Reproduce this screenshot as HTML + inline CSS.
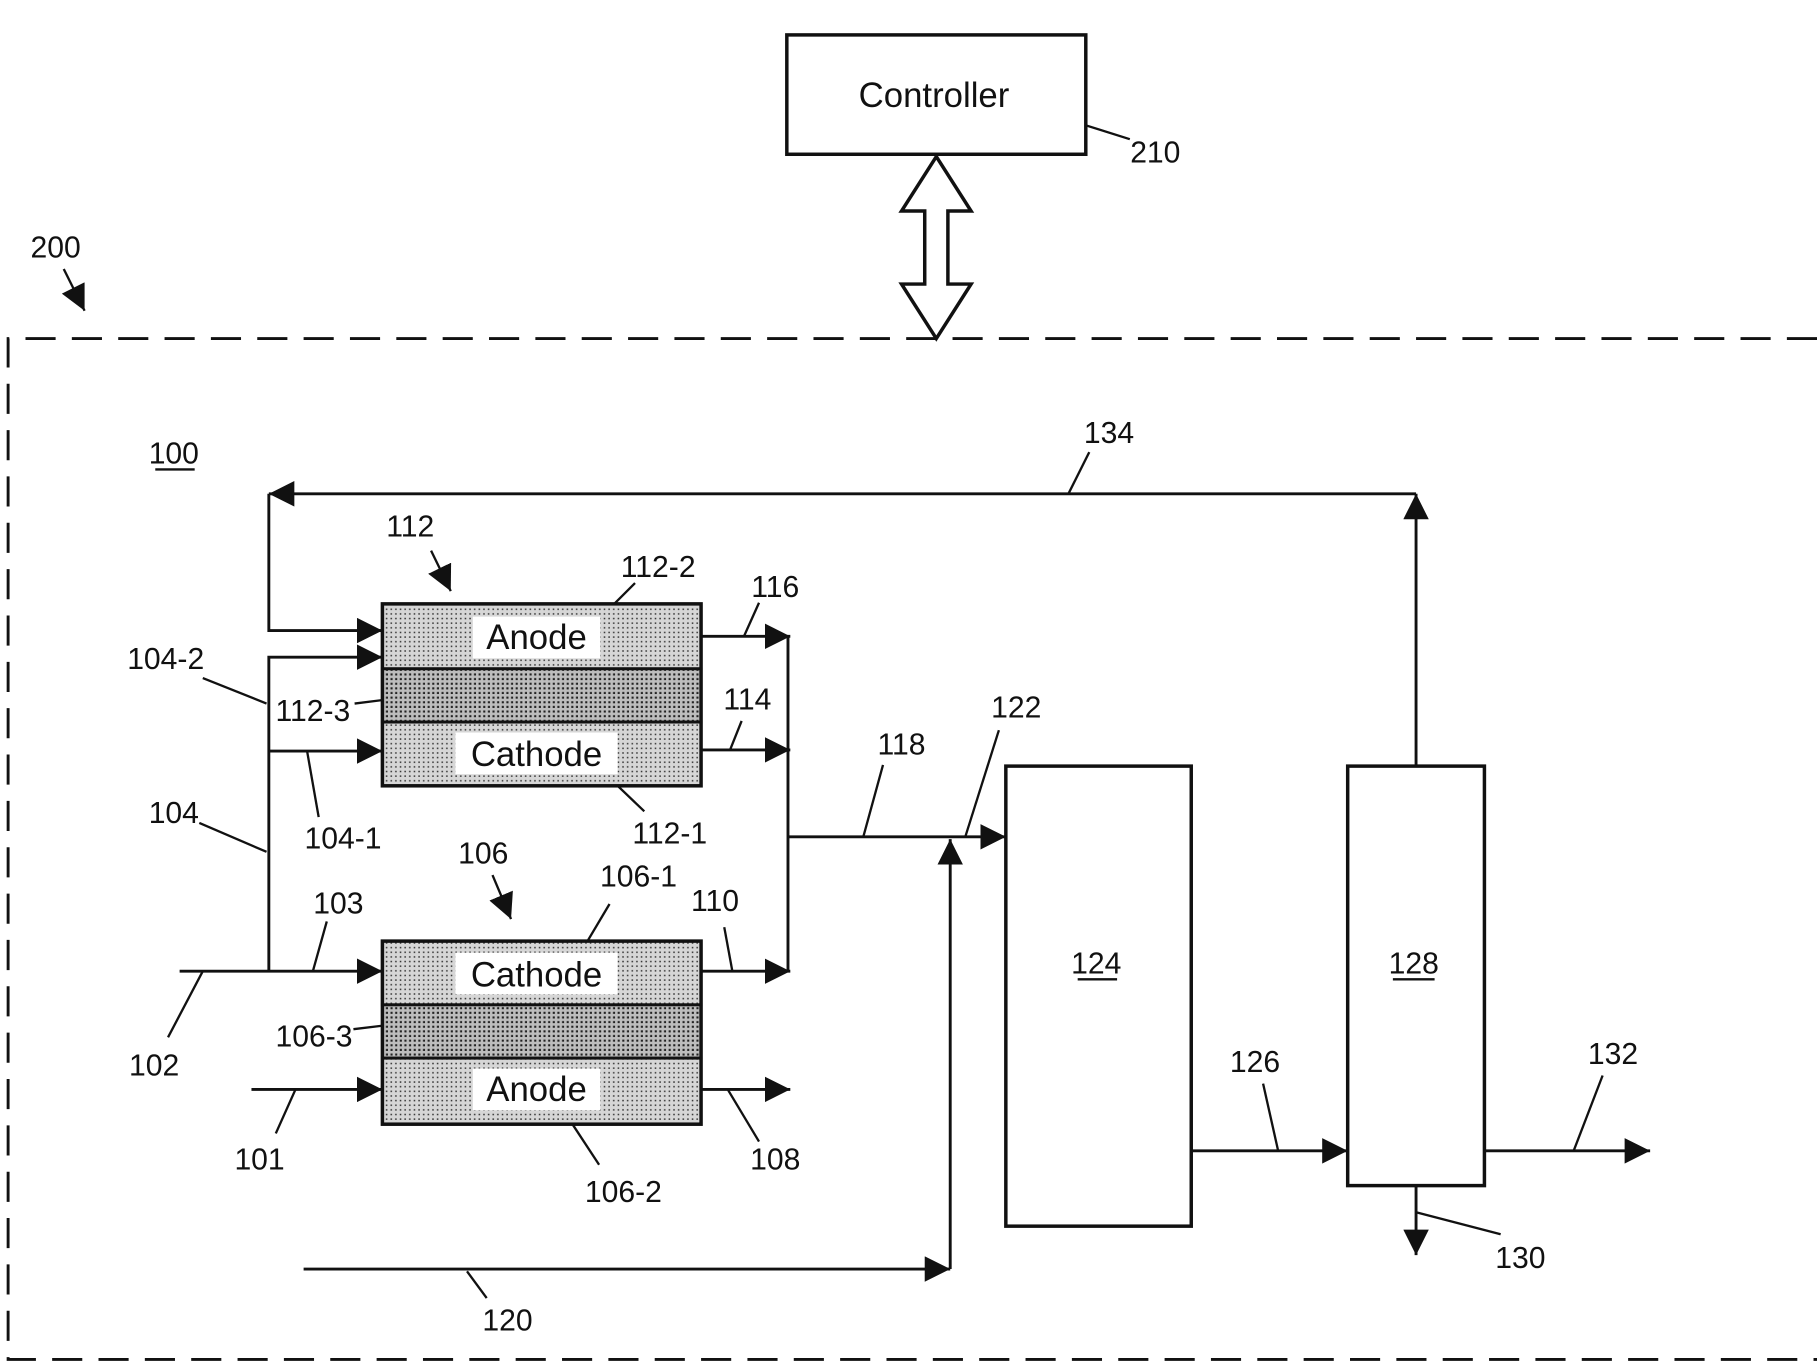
<!DOCTYPE html>
<html><head><meta charset="utf-8"><style>
html,body{margin:0;padding:0;background:#fff;}
svg{display:block;}
text{font-family:"Liberation Sans Narrow","Liberation Sans",sans-serif;fill:#111;}
.n{font-size:26px;text-anchor:middle;}
.b{font-family:"Liberation Sans",sans-serif;font-size:30px;text-anchor:middle;}
</style></head><body>
<svg width="1817" height="1370" viewBox="0 0 1568 1182" xmlns="http://www.w3.org/2000/svg">
<defs>
<pattern id="dots" width="4" height="4" patternUnits="userSpaceOnUse">
<rect width="4" height="4" fill="#d6d6d6"/><rect x="1" y="1" width="1.3" height="1.3" fill="#333"/>
</pattern>
<pattern id="dots2" width="4" height="4" patternUnits="userSpaceOnUse">
<rect width="4" height="4" fill="#bdbdbd"/><rect x="1" y="1" width="1.8" height="1.8" fill="#222"/>
</pattern>
<marker id="a" viewBox="0 0 10 10" refX="10" refY="5" markerWidth="22" markerHeight="22" markerUnits="userSpaceOnUse" orient="auto">
<path d="M0,0 L10,5 L0,10 Z" fill="#111"/></marker>
</defs>
<g stroke="#111" stroke-width="2.5" fill="none">
<!-- controller -->
<rect x="679" y="30" width="258" height="103" stroke-width="3"/>
<line x1="937" y1="108" x2="975" y2="120" stroke-width="2"/>
<path d="M808,135 L838,182 L818,182 L818,245 L838,245 L808,292 L778,245 L798,245 L798,182 L778,182 Z" fill="#fff" stroke-width="3"/>
<line x1="55" y1="232" x2="73" y2="268" marker-end="url(#a)" stroke-width="2"/>
<!-- dashed boundary -->
<path d="M1568,292 L7,292 L7,1173 L1568,1173" stroke-dasharray="26,14" stroke-width="2.5"/>
<!-- recycle 134 -->
<line x1="1222" y1="661" x2="1222" y2="426" marker-end="url(#a)"/>
<line x1="1222" y1="426" x2="232" y2="426" marker-end="url(#a)"/>
<polyline points="232,426 232,544 330,544" marker-end="url(#a)"/>
<polyline points="232,838 232,567 330,567" marker-end="url(#a)"/>
<line x1="232" y1="648" x2="330" y2="648" marker-end="url(#a)"/>
<line x1="155" y1="838" x2="330" y2="838" marker-end="url(#a)"/>
<line x1="217" y1="940" x2="330" y2="940" marker-end="url(#a)"/>
<!-- outputs -->
<line x1="605" y1="549" x2="682" y2="549" marker-end="url(#a)"/>
<line x1="605" y1="647" x2="682" y2="647" marker-end="url(#a)"/>
<line x1="605" y1="838" x2="682" y2="838" marker-end="url(#a)"/>
<line x1="605" y1="940" x2="682" y2="940" marker-end="url(#a)"/>
<line x1="680" y1="549" x2="680" y2="838"/>
<line x1="680" y1="722" x2="868" y2="722" marker-end="url(#a)"/>
<polyline points="262,1095 820,1095"  marker-end="url(#a)"/>
<line x1="820" y1="1095" x2="820" y2="724" marker-end="url(#a)"/>
<!-- boxes -->
<rect x="868" y="661" width="160" height="397" fill="#fff" stroke-width="3"/>
<rect x="1163" y="661" width="118" height="362" fill="#fff" stroke-width="3"/>
<line x1="1028" y1="993" x2="1163" y2="993" marker-end="url(#a)"/>
<line x1="1281" y1="993" x2="1424" y2="993" marker-end="url(#a)"/>
<line x1="1222" y1="1023" x2="1222" y2="1083" marker-end="url(#a)"/>
<!-- cells -->
<rect x="330" y="521" width="275" height="56" fill="url(#dots)"/>
<rect x="330" y="577" width="275" height="46" fill="url(#dots2)"/>
<rect x="330" y="623" width="275" height="55" fill="url(#dots)"/>
<rect x="330" y="521" width="275" height="157" stroke-width="3"/>
<rect x="330" y="812" width="275" height="55" fill="url(#dots)"/>
<rect x="330" y="867" width="275" height="46" fill="url(#dots2)"/>
<rect x="330" y="913" width="275" height="57" fill="url(#dots)"/>
<rect x="330" y="812" width="275" height="158" stroke-width="3"/>
<!-- leaders -->
<g stroke-width="2">
<line x1="940" y1="390" x2="922" y2="426"/>
<line x1="372" y1="475" x2="389" y2="510" marker-end="url(#a)"/>
<line x1="548" y1="503" x2="530" y2="521"/>
<line x1="655" y1="520" x2="642" y2="549"/>
<line x1="175" y1="585" x2="230" y2="607"/>
<line x1="306" y1="607" x2="330" y2="604"/>
<line x1="640" y1="622" x2="630" y2="647"/>
<line x1="275" y1="705" x2="265" y2="648"/>
<line x1="556" y1="700" x2="533" y2="678"/>
<line x1="172" y1="710" x2="230" y2="735"/>
<line x1="762" y1="660" x2="745" y2="722"/>
<line x1="862" y1="630" x2="833" y2="722"/>
<line x1="425" y1="755" x2="441" y2="793" marker-end="url(#a)"/>
<line x1="526" y1="780" x2="507" y2="812"/>
<line x1="282" y1="795" x2="270" y2="838"/>
<line x1="625" y1="800" x2="632" y2="838"/>
<line x1="145" y1="895" x2="175" y2="838"/>
<line x1="305" y1="888" x2="330" y2="885"/>
<line x1="238" y1="978" x2="255" y2="940"/>
<line x1="655" y1="985" x2="628" y2="940"/>
<line x1="517" y1="1005" x2="494" y2="970"/>
<line x1="420" y1="1120" x2="403" y2="1097"/>
<line x1="1090" y1="935" x2="1103" y2="993"/>
<line x1="1383" y1="928" x2="1358" y2="993"/>
<line x1="1295" y1="1065" x2="1222" y2="1046"/>
<line x1="134" y1="405" x2="168" y2="405"/>
<line x1="930" y1="845" x2="964" y2="845"/>
<line x1="1202" y1="845" x2="1238" y2="845"/>
</g>
</g>
<!-- label backgrounds -->
<rect x="408" y="532" width="110" height="36" fill="#fff"/>
<rect x="393" y="632" width="140" height="36" fill="#fff"/>
<rect x="393" y="822" width="140" height="36" fill="#fff"/>
<rect x="408" y="922" width="110" height="36" fill="#fff"/>
<text class="b" x="806" y="92">Controller</text>
<text class="b" x="463" y="560">Anode</text>
<text class="b" x="463" y="661">Cathode</text>
<text class="b" x="463" y="851">Cathode</text>
<text class="b" x="463" y="950">Anode</text>
<g class="n">
<text class="n" x="997" y="140">210</text>
<text class="n" x="48" y="222">200</text>
<text class="n" x="150" y="400">100</text>
<text class="n" x="957" y="382">134</text>
<text class="n" x="354" y="463">112</text>
<text class="n" x="568" y="498">112-2</text>
<text class="n" x="669" y="515">116</text>
<text class="n" x="143" y="577">104-2</text>
<text class="n" x="270" y="622">112-3</text>
<text class="n" x="645" y="612">114</text>
<text class="n" x="296" y="732">104-1</text>
<text class="n" x="578" y="728">112-1</text>
<text class="n" x="150" y="710">104</text>
<text class="n" x="778" y="651">118</text>
<text class="n" x="877" y="619">122</text>
<text class="n" x="417" y="745">106</text>
<text class="n" x="551" y="765">106-1</text>
<text class="n" x="292" y="788">103</text>
<text class="n" x="617" y="786">110</text>
<text class="n" x="133" y="928">102</text>
<text class="n" x="271" y="903">106-3</text>
<text class="n" x="224" y="1009">101</text>
<text class="n" x="669" y="1009">108</text>
<text class="n" x="538" y="1037">106-2</text>
<text class="n" x="438" y="1148">120</text>
<text class="n" x="946" y="840">124</text>
<text class="n" x="1220" y="840">128</text>
<text class="n" x="1083" y="925">126</text>
<text class="n" x="1392" y="918">132</text>
<text class="n" x="1312" y="1094">130</text>
</g>
</svg>
</body></html>
